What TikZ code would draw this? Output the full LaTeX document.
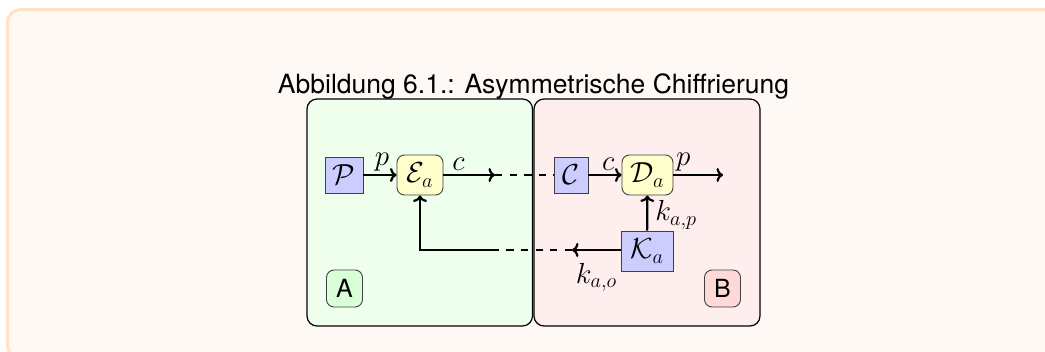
\RequirePackage{fix-cm}
\documentclass[tikz,border=0pt]{standalone}
\usepackage{fontspec}
\setsansfont{TeX Gyre Heros}
\usetikzlibrary{arrows.meta}
\definecolor{framefill}{RGB}{255,249,245}
\definecolor{frameline}{RGB}{255,226,196}
\definecolor{areaA}{RGB}{238,255,238}
\definecolor{areaB}{RGB}{255,238,238}
\definecolor{tagA}{RGB}{216,255,216}
\definecolor{tagB}{RGB}{255,216,216}
\definecolor{setfill}{RGB}{204,204,255}
\definecolor{funfill}{RGB}{255,255,204}
\tikzset{
  mathfont/.style={font=\fontsize{29}{34}\selectfont},
  setbox/.style={draw=black!75, line width=0.9pt, fill=setfill, mathfont, inner sep=0pt},
  funbox/.style={draw=black!75, line width=0.9pt, fill=funfill, rounded corners=7.5pt, mathfont, inner sep=0pt},
  tagbox/.style={draw=black!75, line width=0.9pt, rounded corners=7.5pt, inner sep=0pt,
    minimum width=36pt, minimum height=37pt, font=\sffamily\fontsize{25}{29}\selectfont},
  area/.style={draw=black, line width=1.2pt, rounded corners=10pt},
  flow/.style={line width=2.2pt, -{To[length=6.5pt,width=14pt]}},
  remote/.style={line width=2.2pt, dash pattern=on 7.3pt off 7.3pt},
  lbl/.style={mathfont, inner sep=3pt}
}
\begin{document}
\begin{tikzpicture}[x=1pt, y=1pt]
  \useasboundingbox (0,0) rectangle (1045,-352);
  % outer box
  \begin{scope}
    \clip (0,0) rectangle (1045,-352);
    \fill[white] (0,0) rectangle (1045,-352);
    \draw[frameline, fill=framefill, line width=3pt, rounded corners=13pt]
      (7.5,-9.5) rectangle (1070,-358);
  \end{scope}
  % caption
  \node[font=\sffamily\fontsize{26.5}{31}\selectfont, anchor=base] (title) at (533.5,-94)
    {Abbildung 6.1.: Asymmetrische Chiffrierung};
  % the two parties
  \draw[area, fill=areaA] (307,-99) rectangle (532.5,-326);
  \draw[area, fill=areaB] (534,-99) rectangle (760,-326);
  \node[tagbox, fill=tagA] (tA) at (344.5,-288.5) {A};
  \node[tagbox, fill=tagB] (tB) at (722.5,-288.5) {B};
  % party A
  \node[setbox, minimum width=38pt, minimum height=36pt] (P) at (344,-175) {$\mathcal{P}$};
  \node[funbox, minimum width=46pt, minimum height=40pt] (E) at (420,-175) {$\mathcal{E}_a$};
  % party B
  \node[setbox, minimum width=34pt, minimum height=36pt] (C) at (571,-175) {$\mathcal{C}$};
  \node[funbox, minimum width=51pt, minimum height=40pt] (D) at (647.5,-175) {$\mathcal{D}_a$};
  \node[setbox, minimum width=52pt, minimum height=40pt] (K) at (647,-251) {$\mathcal{K}_a$};
  % junction points
  \coordinate (cout) at (495,-175);
  \coordinate (pout) at (723,-175);
  \coordinate (kin) at (572,-250);
  \coordinate (kout) at (495,-250);
  % encryption path
  \draw[flow] (P) -- node[lbl, above, pos=0.56] {$p$} (E);
  \draw[flow] (E) -- node[lbl, above, pos=0.29] {$c$} (cout);
  \draw[remote] (cout) -- (C);
  % decryption path
  \draw[flow] (C) -- node[lbl, above, pos=0.6] {$c$} (D);
  \draw[flow] (D) -- node[lbl, above, pos=0.2] {$p$} (pout);
  \draw[flow] (K) -- node[lbl, right, pos=0.45, xshift=4pt] {$k_{a,p}$} (D);
  % public key to A
  \draw[flow] (K.west |- kin) -- node[lbl, below, pos=0.5, yshift=-9pt] {$k_{a,o}$} (kin);
  \draw[remote] (kin) -- (kout);
  \draw[flow] (kout) -| (E.south);
\end{tikzpicture}
\end{document}
